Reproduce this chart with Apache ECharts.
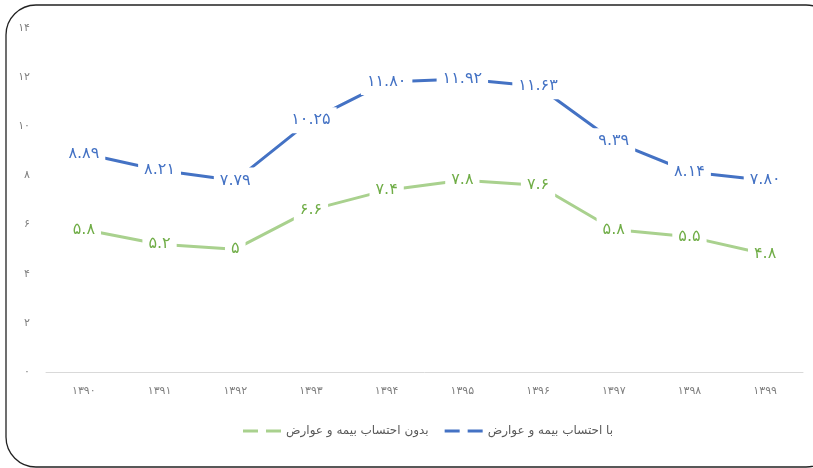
<!DOCTYPE html>
<html><head><meta charset="utf-8">
<script src="https://cdn.jsdelivr.net/npm/echarts@6/dist/echarts.min.js"></script>
<style>html,body{margin:0;padding:0;background:#fff}#c{width:813px;height:468px}</style>
</head><body><div id="c"></div>
<script>
const categories = ['1390','1391','1392','1393','1394','1395','1396','1397','1398','1399'];
const withInsurance = [8.89, 8.21, 7.79, 10.25, 11.80, 11.92, 11.63, 9.39, 8.14, 7.80];
const withInsuranceLabels = ['8.89','8.21','7.79','10.25','11.80','11.92','11.63','9.39','8.14','7.80'];
const withoutInsurance = [5.8, 5.2, 5, 6.6, 7.4, 7.8, 7.6, 5.8, 5.5, 4.8];
const yTicks = [0, 2, 4, 6, 8, 10, 12, 14];
const nameWith = 'با احتساب بیمه و عوارض';
const nameWithout = 'بدون احتساب بیمه و عوارض';

const fa = s => String(s).replace(/[0-9]/g, d => '۰۱۲۳۴۵۶۷۸۹'[d]);
const FONT = '"DejaVu Sans", "Noto Sans", sans-serif';

const chart = echarts.init(document.getElementById('c'));
chart.setOption({
  animation: false,
  textStyle: { fontFamily: FONT },
  graphic: [{
    type: 'rect', z: 100, silent: true,
    shape: { x: 6, y: 5, width: 830, height: 462, r: 30 },
    style: { fill: 'none', stroke: '#222', lineWidth: 1.3 }
  }],
  grid: { left: 46, right: 10, top: 28, bottom: 96, containLabel: false },
  legend: {
    bottom: 26, left: 238, itemGap: 16,
    itemWidth: 38, itemHeight: 3,
    data: [
      { name: nameWithout, icon: 'path://M0,0h15v3h-15z M23,0h15v3h-15z' },
      { name: nameWith, icon: 'path://M0,0h15v3h-15z M23,0h15v3h-15z' }
    ],
    textStyle: { color: '#595959', fontSize: 12, fontFamily: FONT }
  },
  xAxis: {
    type: 'category', data: categories, boundaryGap: true,
    axisLine: { lineStyle: { color: '#D9D9D9', width: 1 } },
    axisTick: { show: false },
    axisLabel: { color: '#7F7F7F', fontSize: 11, margin: 14, formatter: v => fa(v) }
  },
  yAxis: {
    type: 'value', min: 0, max: 14, interval: 2,
    splitLine: { show: false }, axisLine: { show: false }, axisTick: { show: false },
    axisLabel: { color: '#7F7F7F', fontSize: 11, margin: 16, formatter: v => fa(v) }
  },
  series: [
    {
      name: nameWith, type: 'line', data: withInsurance, symbol: 'circle', symbolSize: 0, showSymbol: true,
      lineStyle: { color: '#4472C4', width: 3 }, itemStyle: { color: '#4472C4' },
      label: {
        show: true, position: 'inside', color: '#4472C4', fontSize: 16, fontWeight: 'normal',
        backgroundColor: '#fff', padding: [5, 6],
        formatter: p => fa(withInsuranceLabels[p.dataIndex])
      }
    },
    {
      name: nameWithout, type: 'line', data: withoutInsurance, symbol: 'circle', symbolSize: 0, showSymbol: true,
      lineStyle: { color: '#A9D18E', width: 3 }, itemStyle: { color: '#A9D18E' },
      label: {
        show: true, position: 'inside', color: '#70AD47', fontSize: 16, fontWeight: 'normal',
        backgroundColor: '#fff', padding: [5, 6],
        formatter: p => fa(p.value)
      }
    }
  ]
});
</script></body></html>
